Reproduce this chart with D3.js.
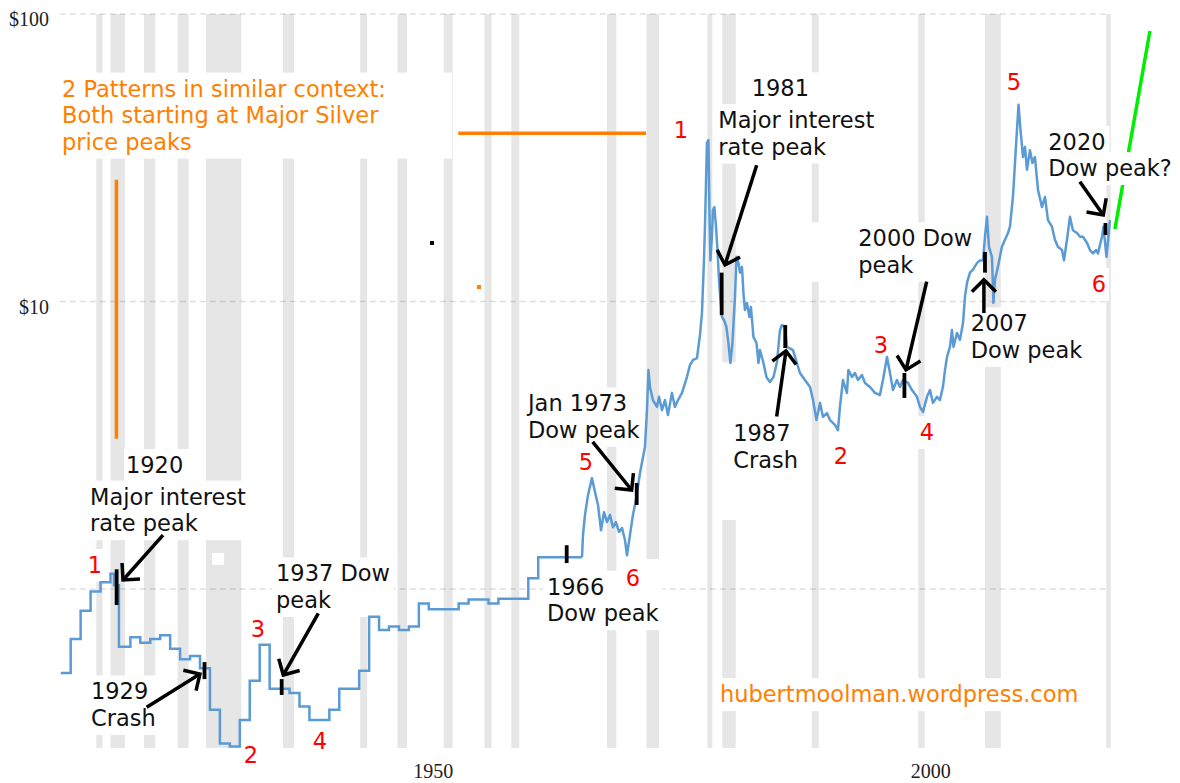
<!DOCTYPE html>
<html>
<head>
<meta charset="utf-8">
<script src="https://cdnjs.cloudflare.com/ajax/libs/d3/7.8.5/d3.min.js"></script>
<style>
  body { margin: 0; background: #fff; }
  svg { display: block; background: #fff; }
  .note { font-family: "DejaVu Sans", sans-serif; font-size: 22.5px; }
  .axis text { font-family: "Liberation Serif", "Times New Roman", serif; font-size: 20px; fill: #222; }
</style>
</head>
<body>
<svg id="chart" width="1180" height="783"></svg>
<script>
/*========== Data ===========*/

// yearly silver price (drawn as steps) up to mid 1967
var stepYears = [1915, 1916, 1917, 1918, 1919, 1920, 1920.35, 1920.85, 1922, 1923, 1924, 1925, 1926, 1927, 1928, 1929,
    1930, 1931, 1932, 1933, 1934, 1935, 1936, 1937, 1938, 1939, 1940, 1941, 1942, 1943, 1944, 1945, 1946, 1947, 1948,
    1949, 1950, 1951, 1952, 1955, 1956, 1958, 1959, 1962, 1963, 1967.4];
var stepPrices = [0.51, 0.67, 0.84, 0.98, 1.055, 1.13, 1.03, 0.63, 0.68, 0.65, 0.67, 0.69, 0.62, 0.57, 0.585, 0.53,
    0.38, 0.29, 0.283, 0.35, 0.48, 0.64, 0.45, 0.45, 0.435, 0.39, 0.35, 0.35, 0.38, 0.45, 0.45, 0.52, 0.80, 0.72, 0.74,
    0.72, 0.74, 0.89, 0.85, 0.89, 0.92, 0.89, 0.925, 1.09, 1.29, 1.29];

// monthly-ish silver price from 1967 on
var monthYears = [1967.40, 1967.50, 1967.70, 1968.00, 1968.40, 1968.70, 1969.01, 1969.31, 1969.61, 1969.91,
    1970.21, 1970.51, 1970.81, 1971.12, 1971.42, 1971.72, 1971.92, 1972.22, 1972.52, 1972.82,
    1973.23, 1973.73, 1973.93, 1974.08, 1974.23, 1974.53, 1974.94, 1975.14, 1975.44, 1975.74,
    1976.04, 1976.44, 1976.74, 1977.05, 1977.45, 1977.95, 1978.25, 1978.56, 1978.96, 1979.26,
    1979.46, 1979.66, 1979.76, 1979.96, 1980.11, 1980.21, 1980.31, 1980.46, 1980.56, 1980.71,
    1980.87, 1981.02, 1981.17, 1981.32, 1981.47, 1981.67, 1981.92, 1982.12, 1982.32, 1982.52,
    1982.78, 1982.93, 1983.13, 1983.28, 1983.48, 1983.63, 1983.78, 1983.98, 1984.23, 1984.38,
    1984.64, 1984.94, 1985.14, 1985.29, 1985.64, 1985.94, 1986.29, 1986.65, 1987.00, 1987.30,
    1987.50, 1987.80, 1988.00, 1988.61, 1989.31, 1989.81, 1990.32, 1990.62, 1990.97, 1991.32,
    1991.62, 1992.02, 1992.33, 1992.83, 1993.13, 1993.33, 1993.63, 1994.03, 1994.18, 1994.54,
    1994.84, 1995.14, 1995.54, 1995.84, 1996.35, 1996.85, 1997.35, 1997.65, 1998.06, 1998.36,
    1998.66, 1999.06, 1999.36, 1999.66, 2000.17, 2000.57, 2001.07, 2001.37, 2001.68, 2002.08,
    2002.38, 2002.68, 2003.08, 2003.38, 2003.68, 2003.89, 2004.09, 2004.39, 2004.59, 2004.74,
    2005.09, 2005.39, 2005.70, 2005.90, 2006.10, 2006.40, 2006.70, 2007.10, 2007.40, 2007.71,
    2007.91, 2008.11, 2008.31, 2008.61, 2008.76, 2008.91, 2009.21, 2009.61, 2009.92, 2010.22,
    2010.42, 2010.72, 2011.02, 2011.28, 2011.48, 2011.73, 2011.93, 2012.13, 2012.43, 2012.68,
    2012.93, 2013.24, 2013.64, 2013.94, 2014.24, 2014.64, 2014.94, 2015.24, 2015.65, 2015.85,
    2016.15, 2016.45, 2016.75, 2017.16, 2017.46, 2017.76, 2018.16, 2018.46, 2018.77, 2019.07,
    2019.27, 2019.67, 2019.82, 2020.12, 2020.32, 2020.47];
var monthPrices = [1.29, 1.54, 1.81, 2.12, 2.43, 2.18, 1.96, 1.60, 1.85, 1.71,
    1.81, 1.64, 1.71, 1.58, 1.63, 1.48, 1.31, 1.54, 1.81, 2.04,
    2.53, 3.12, 4.19, 5.78, 5.04, 4.54, 4.30, 4.66, 4.19, 4.54,
    4.03, 4.81, 4.30, 4.54, 4.81, 5.46, 6.01, 6.26, 6.36, 7.65,
    9.12, 13.9, 18.2, 35.6, 36.4, 20.8, 13.9, 16.8, 20.8, 21.3,
    18.2, 15.1, 11.9, 10.1, 8.83, 8.62, 8.15, 7.17, 6.11, 7.17,
    10.4, 14.3, 13.6, 12.6, 13.2, 10.7, 9.34, 9.88, 8.83, 9.57,
    7.52, 7.17, 6.11, 6.78, 6.11, 5.46, 5.25, 5.46, 6.16, 7.96,
    8.28, 8.15, 6.95, 6.78, 5.64, 5.33, 5.04, 4.54, 3.87, 4.44,
    3.97, 4.09, 3.87, 3.72, 3.57, 4.30, 5.33, 4.81, 5.78, 5.46,
    5.64, 5.33, 5.55, 5.21, 5.04, 4.81, 4.73, 5.33, 6.41, 5.64,
    4.92, 5.33, 5.04, 5.33, 5.21, 4.92, 4.66, 4.30, 4.13, 4.66,
    4.92, 4.44, 4.66, 4.54, 5.04, 5.78, 6.41, 6.95, 7.96, 6.95,
    7.77, 7.35, 8.42, 10.4, 11.6, 12.6, 12.9, 13.6, 13.9, 13.9,
    16.8, 19.7, 15.5, 14.3, 9.88, 11.9, 13.2, 15.5, 16.4, 17.3,
    18.2, 23.1, 34.5, 48.3, 39.5, 31.8, 34.5, 28.7, 33.6, 30.3,
    31.8, 24.4, 21.3, 23.1, 19.2, 18.2, 16.4, 15.5, 15.1, 13.9,
    16.4, 19.7, 17.7, 17.3, 16.8, 16.8, 16.0, 15.1, 14.7, 15.1,
    14.7, 16.8, 18.2, 14.3, 16.8, 19.2];

// US recessions (grey bands)
var recessionStart = [1918.58, 1920.0, 1923.37, 1926.75, 1929.6, 1937.33, 1945.1, 1948.85, 1953.5, 1957.6,
    1960.3, 1969.92, 1973.88, 1980.0, 1981.5, 1990.5, 2001.2, 2007.92, 2020.1];
var recessionEnd = [1919.2, 1921.45, 1924.5, 1927.85, 1933.15, 1938.45, 1945.8, 1949.8, 1954.4, 1958.3,
    1961.1, 1970.85, 1975.15, 1980.5, 1982.85, 1991.2, 2001.85, 2009.5, 2020.55];

// axes
var gridPrices = [1, 10, 100];
var yTickPrices = [10, 100];
var xTickLabels = ["1950", "2000"];
var xTickYears = [1952.4, 2002.4];   // the picture prints its year labels ~2.4 yrs right of the data
var plotYears = [1914.9, 2020.3];
var plotFloor = 0.28;

// event markers (short black bars) and arrows pointing at them
var eventYears = [1920.62, 1929.45, 1937.21, 1965.86, 1972.90, 1981.44, 1987.83, 1999.81, 2007.91, 2020.02];
var eventHigh = [1.171, 0.557, 0.486, 1.42, 2.337, 12.6, 8.28, 5.64, 14.87, 18.75];
var eventLow = [0.880, 0.486, 0.428, 1.231, 1.96, 8.97, 6.89, 4.62, 12.6, 17.03];

var arrowFromYear = [1925.28, 1923.64, 1940.89, 1968.47, 1984.96, 1986.97, 2002.05, 2007.80, 2017.45];
var arrowFromPrice = [1.54, 0.388, 0.823, 3.25, 29.8, 3.98, 11.72, 9.12, 26.1];
var arrowToYear = [1921.26, 1928.99, 1937.37, 1972.39, 1981.77, 1987.90, 1999.97, 2007.80, 2019.80];
var arrowToPrice = [1.075, 0.506, 0.502, 2.21, 13.4, 6.73, 5.78, 11.9, 20.0];

// text notes
var noteText = [
    ["2 Patterns in similar context:", "Both starting at Major Silver", "price peaks"],
    ["1920"], ["Major interest", "rate peak"], ["1929", "Crash"], ["1937 Dow", "peak"],
    ["Jan 1973", "Dow peak"], ["1966", "Dow peak"], ["1981"], ["Major interest", "rate peak"],
    ["1987", "Crash"], ["2000 Dow", "peak"], ["2007", "Dow peak"], ["2020"], ["Dow peak?"],
    ["hubertmoolman.wordpress.com"]
];
var noteYear = [1915.13, 1921.56, 1917.94, 1918.04, 1936.64, 1961.97, 1963.88, 1984.46, 1981.10, 1982.60,
    1995.17, 2006.47, 2014.27, 2014.27, 1981.27];
var notePrice = [51.6, 2.53, 1.965, 0.413, 1.062, 4.15, 0.955, 51.7, 40.1, 3.26, 15.55, 7.87, 33.7, 27.3, 0.404];
var noteOrange = [true, false, false, false, false, false, false, false, false, false, false, false, false, false, true];

// wave counts (red numbers)
var waveLabel = ["1", "2", "3", "4", "5", "6", "1", "2", "3", "4", "5", "6"];
var waveYear = [1918.44, 1934.12, 1934.83, 1941.06, 1967.80, 1972.52, 1977.35, 1993.43, 1997.45, 2002.08, 2010.82, 2019.36];
var wavePrice = [1.137, 0.2482, 0.681, 0.2776, 2.594, 1.024, 37.0, 2.72, 6.635, 3.30, 54.4, 10.79];

// pattern guide lines
var patternLines = [
    [[1920.6, 26.5], [1920.6, 3.33]],
    [[1954.96, 38.5], [1973.83, 38.5]]
];
var projection = [[2020.97, 17.87], [2024.49, 87.3]];
var strayYear = [1957.04, 1952.32];
var strayPrice = [11.23, 15.98];
// empty white patch inside the 1929-33 band: [year0, year1, priceTop, priceBottom]
var blankPatch = [1930.22, 1931.42, 1.334, 1.212];

/*========== Style ===========*/
var style = {
    band: "#e6e6e6",
    grid: "rgba(0,0,0,0.13)",
    silver: "#5b9bd5",
    orange: "#ff8000",
    red: "#ff0000",
    green: "#00ee00",
    ink: "#111",
    lineGap: 26.5,
    boxPad: 4
};
// extra white-box size for some notes: [left, right, top, bottom]
var boxExtra = { 0: [4, 62, 0, 0], 1: [-2, 8, 0, 0], 7: [2, 10, 0, 0], 9: [8, 0, 55, 43], 10: [46, 0, 0, 0] };
var waveBoxExtra = { 5: [0, 17, 3, 0] };

/*========== Scales ===========*/
var svg = d3.select("#chart");
var x = d3.scaleLinear().domain([1910, 2025]).range([11, 1155]);
var y = d3.scaleLog().domain([1, 100]).range([589, 14]);

/*========== Recession bands ===========*/
svg.append("g")
    .selectAll("rect")
    .data(recessionStart)
    .enter()
    .append("rect")
    .attr("x", function (d) { return x(d); })
    .attr("width", function (d, i) { return x(recessionEnd[i]) - x(d); })
    .attr("y", y(100))
    .attr("height", y(plotFloor) - y(100))
    .attr("fill", style.band);

/*========== Grid ===========*/
svg.append("g")
    .selectAll("line")
    .data(gridPrices)
    .enter()
    .append("line")
    .attr("x1", x(plotYears[0]))
    .attr("x2", x(plotYears[1]))
    .attr("y1", function (d) { return y(d); })
    .attr("y2", function (d) { return y(d); })
    .attr("stroke", style.grid)
    .attr("stroke-width", 1.6)
    .attr("stroke-dasharray", "6,4");

/*========== Axes ===========*/
svg.append("g")
    .attr("class", "axis")
    .attr("transform", "translate(52,0)")
    .call(d3.axisLeft(y).tickValues(yTickPrices).tickSize(0).tickPadding(3)
        .tickFormat(function (d) { return "$" + d; }))
    .call(function (g) { g.select(".domain").remove(); })
    .selectAll("text").attr("dy", "0.58em");

svg.append("g")
    .attr("class", "axis")
    .attr("transform", "translate(0,764)")
    .call(d3.axisBottom(x).tickValues(xTickYears).tickSize(0).tickPadding(0)
        .tickFormat(function (d, i) { return xTickLabels[i]; }))
    .call(function (g) { g.select(".domain").remove(); });

/*========== Guide lines ===========*/
var pt = d3.line()
    .x(function (d) { return x(d[0]); })
    .y(function (d) { return y(d[1]); });

var guides = svg.append("g");
guides.selectAll(".pattern")
    .data(patternLines)
    .enter()
    .append("path")
    .attr("d", pt)
    .attr("stroke", style.orange)
    .attr("stroke-width", 3.5)
    .attr("fill", "none");

guides.append("path")
    .attr("d", pt(projection))
    .attr("stroke", style.green)
    .attr("stroke-width", 3.5)
    .attr("fill", "none");

guides.selectAll(".stray")
    .data(strayYear)
    .enter()
    .append("rect")
    .attr("x", function (d) { return x(d) - 2; })
    .attr("y", function (d, i) { return y(strayPrice[i]) - 2; })
    .attr("width", 4)
    .attr("height", 4)
    .attr("fill", function (d, i) { return i === 0 ? style.orange : "#000"; });

/*========== Notes (white boxes behind text) ===========*/
var boxLayer = svg.append("g");
var textLayer = svg.append("g");

boxLayer.append("rect")
    .attr("x", x(blankPatch[0]))
    .attr("y", y(blankPatch[2]))
    .attr("width", x(blankPatch[1]) - x(blankPatch[0]))
    .attr("height", y(blankPatch[3]) - y(blankPatch[2]))
    .attr("fill", "#fff");

function addNote(lines, yr, price, color, anchor, extra) {
    var t = textLayer.append("text")
        .attr("class", "note")
        .attr("x", x(yr))
        .attr("y", y(price))
        .attr("fill", color)
        .style("text-anchor", anchor);
    t.selectAll("tspan")
        .data(lines)
        .enter()
        .append("tspan")
        .attr("x", x(yr))
        .attr("dy", function (d, i) { return i === 0 ? 0 : style.lineGap; })
        .text(function (d) { return d; });
    var b = t.node().getBBox();
    var e = extra || [0, 0, 0, 0];
    var p = style.boxPad;
    boxLayer.append("rect")
        .attr("x", b.x - p - e[0])
        .attr("y", b.y - p + 1 - e[2])
        .attr("width", b.width + 2 * p + e[0] + e[1])
        .attr("height", b.height + 2 * p - 1 + e[2] + e[3])
        .attr("fill", "#fff");
}

noteText.forEach(function (lines, i) {
    addNote(lines, noteYear[i], notePrice[i], noteOrange[i] ? style.orange : style.ink, "start", boxExtra[i]);
});
waveLabel.forEach(function (d, i) {
    addNote([d], waveYear[i], wavePrice[i], style.red, "middle", waveBoxExtra[i] || [-1, -1, 0, 0]);
});

/*========== Silver price ===========*/
var steps = stepYears.map(function (d, i) { return [d, stepPrices[i]]; });
var months = monthYears.map(function (d, i) { return [d, monthPrices[i]]; });

svg.append("path")
    .attr("d", d3.line().curve(d3.curveStepAfter)
        .x(function (d) { return x(d[0]); })
        .y(function (d) { return y(d[1]); })(steps))
    .attr("fill", "none")
    .attr("stroke", style.silver)
    .attr("stroke-width", 2.5);

svg.append("path")
    .attr("d", pt(months))
    .attr("fill", "none")
    .attr("stroke", style.silver)
    .attr("stroke-width", 2.5)
    .attr("stroke-linejoin", "round");

/*========== Event markers ===========*/
svg.append("g")
    .selectAll("line")
    .data(eventYears)
    .enter()
    .append("line")
    .attr("x1", function (d) { return x(d); })
    .attr("x2", function (d) { return x(d); })
    .attr("y1", function (d, i) { return y(eventHigh[i]); })
    .attr("y2", function (d, i) { return y(eventLow[i]); })
    .attr("stroke", "#000")
    .attr("stroke-width", 3.8);

/*========== Arrows ===========*/
var arrows = svg.append("g")
    .attr("stroke", "#000")
    .attr("stroke-width", 3.5)
    .attr("fill", "none");

arrowFromYear.forEach(function (d, i) {
    var x0 = x(d), y0 = y(arrowFromPrice[i]);
    var x1 = x(arrowToYear[i]), y1 = y(arrowToPrice[i]);
    var back = Math.atan2(y0 - y1, x0 - x1);
    var len = 17, spread = Math.PI / 4;
    arrows.append("line")
        .attr("x1", x0).attr("y1", y0)
        .attr("x2", x1).attr("y2", y1);
    arrows.append("path")
        .attr("d", "M" + (x1 + len * Math.cos(back - spread)) + "," + (y1 + len * Math.sin(back - spread)) +
            "L" + x1 + "," + y1 +
            "L" + (x1 + len * Math.cos(back + spread)) + "," + (y1 + len * Math.sin(back + spread)));
});
</script>
</body>
</html>
